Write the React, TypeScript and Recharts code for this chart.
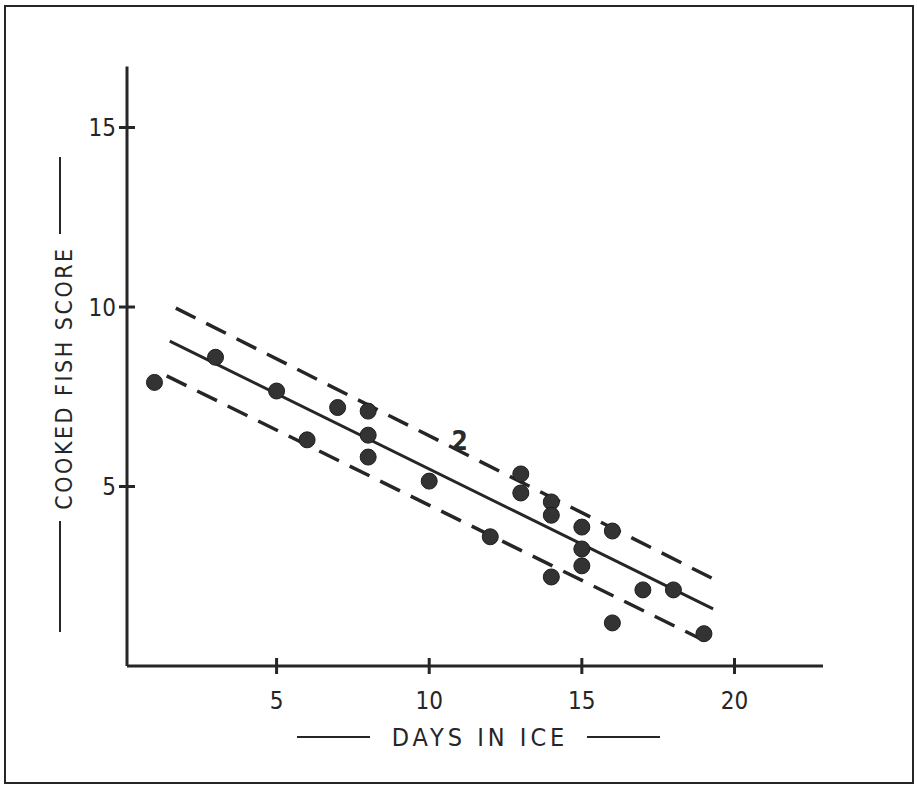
import React from 'react';
import { ComposedChart, Scatter, Line, XAxis, YAxis } from 'recharts';

// observed scores (days in ice, cooked fish score)
const days = [1, 3, 5, 6, 7, 8, 8, 8, 10, 12, 13, 13, 14, 14, 14, 15, 15, 15, 16, 16, 17, 18, 19];
const scores = [7.9, 8.6, 7.66, 6.3, 7.2, 7.1, 6.43, 5.82, 5.15, 3.6, 5.35, 4.82, 4.57, 4.2, 2.48, 3.87, 3.26, 2.79, 3.76, 1.2, 2.12, 2.12, 0.9];

// point marked "2" (two coincident observations)
const pairDays = [11];
const pairScores = [6.27];

// regression line and +/- band
const fitX = [1.5, 19.3];
const fitY = [9.05, 1.59];
const upperX = [1.7, 19.25];
const upperY = [9.97, 2.45];
const lowerX = [1.4, 19.0];
const lowerY = [8.08, 0.71];

const xTicks = [5, 10, 15, 20];
const yTicks = [5, 10, 15];

const points = days.map((d, i) => ({ x: d, y: scores[i] }));
const pairs = pairDays.map((d, i) => ({ x: d, y: pairScores[i] }));
const fit = fitX.map((x, i) => ({ x, y: fitY[i] }));
const upper = upperX.map((x, i) => ({ x, y: upperY[i] }));
const lower = lowerX.map((x, i) => ({ x, y: lowerY[i] }));

const INK = '#262626';
const FONT = '"DejaVu Sans Condensed", "Liberation Sans Narrow", "DejaVu Sans", sans-serif';

const XTick = (props: any) => {
  const { x, y, payload } = props;
  return (
    <g>
      <line x1={x} x2={x} y1={y - 8} y2={y + 8} stroke={INK} strokeWidth={3} />
      <text x={x} y={y + 43} textAnchor="middle" fill={INK} fontSize={24} fontFamily={FONT}>
        {payload.value}
      </text>
    </g>
  );
};

const YTick = (props: any) => {
  const { x, y, payload } = props;
  return (
    <g>
      <line x1={x - 8} x2={x + 8} y1={y} y2={y} stroke={INK} strokeWidth={3} />
      <text x={x - 11} y={y + 8.5} textAnchor="end" fill={INK} fontSize={24} fontFamily={FONT}>
        {payload.value}
      </text>
    </g>
  );
};

const XTitle = () => (
  <g>
    <line x1={297} x2={370} y1={737} y2={737} stroke={INK} strokeWidth={2} />
    <text x={480} y={746} textAnchor="middle" fill={INK} fontSize={25} fontFamily={FONT} letterSpacing={4}>
      DAYS IN ICE
    </text>
    <line x1={587} x2={660} y1={737} y2={737} stroke={INK} strokeWidth={2} />
  </g>
);

const YTitle = () => (
  <g>
    <line x1={60} x2={60} y1={157} y2={234} stroke={INK} strokeWidth={2} />
    <text
      x={0}
      y={0}
      transform="translate(72,378) rotate(-90)"
      textAnchor="middle"
      fill={INK}
      fontSize={23}
      fontFamily={FONT}
      letterSpacing={2.5}
    >
      COOKED FISH SCORE
    </text>
    <line x1={60} x2={60} y1={521} y2={632} stroke={INK} strokeWidth={2} />
  </g>
);

const Dot = (props: any) => {
  const { cx, cy } = props;
  return <circle cx={cx} cy={cy} r={8} fill="#333" stroke="#1e1e1e" strokeWidth={1} />;
};

const PairMark = (props: any) => {
  const { cx, cy } = props;
  return (
    <text x={cx} y={cy + 9} textAnchor="middle" fill="#2a2a2a" fontSize={26} fontWeight="bold" fontFamily={FONT}>
      2
    </text>
  );
};

export default function App() {
  return (
    <div style={{ position: 'absolute', left: 0, top: 0, width: 917, height: 786, background: '#fff' }}>
      <div
        style={{
          position: 'absolute',
          left: 4,
          top: 5,
          width: 906,
          height: 775,
          border: `2px solid ${INK}`,
        }}
      />
      <ComposedChart
        width={917}
        height={786}
        margin={{ top: 66.5, right: 94, bottom: 60, left: 67 }}
        style={{ position: 'absolute', left: 0, top: 0 }}
      >
        <XAxis
          type="number"
          dataKey="x"
          domain={[0.1, 22.9]}
          ticks={xTicks}
          allowDataOverflow
          axisLine={{ stroke: INK, strokeWidth: 3 }}
          tickLine={false}
          tickSize={0}
          tickMargin={0}
          tick={<XTick />}
          height={60}
          label={{ content: () => <XTitle /> }}
        />
        <YAxis
          type="number"
          dataKey="y"
          domain={[0, 16.7]}
          ticks={yTicks}
          allowDataOverflow
          axisLine={{ stroke: INK, strokeWidth: 3 }}
          tickLine={false}
          tickSize={0}
          tickMargin={0}
          tick={<YTick />}
          width={60}
          label={{ content: () => <YTitle /> }}
        />
        <Line data={upper} dataKey="y" stroke={INK} strokeWidth={3.5} strokeDasharray="22 12" dot={false} isAnimationActive={false} />
        <Line data={lower} dataKey="y" stroke={INK} strokeWidth={3.5} strokeDasharray="22 12" dot={false} isAnimationActive={false} />
        <Line data={fit} dataKey="y" stroke={INK} strokeWidth={3} dot={false} isAnimationActive={false} />
        <Scatter data={points} dataKey="y" shape={<Dot />} isAnimationActive={false} />
        <Scatter data={pairs} dataKey="y" shape={<PairMark />} isAnimationActive={false} />
      </ComposedChart>
    </div>
  );
}
